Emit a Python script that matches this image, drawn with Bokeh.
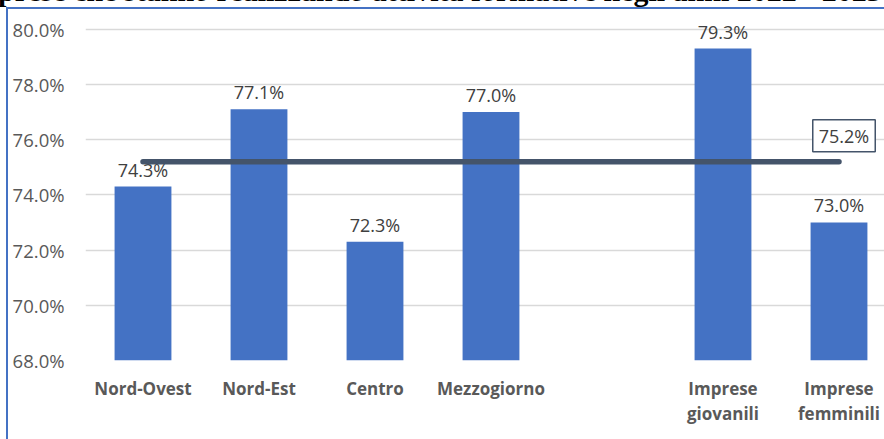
from bokeh.plotting import figure
from bokeh.layouts import column
from bokeh.models import Range1d, FixedTicker, PrintfTickFormatter, Label, ColumnDataSource, Div
from bokeh.core.properties import value
from bokeh.embed import file_html
from bokeh.resources import INLINE

# ---- data ----
categories = ["Nord-Ovest", "Nord-Est", "Centro", "Mezzogiorno", "", "Imprese\ngiovanili", "Imprese\nfemminili"]
values = [74.3, 77.1, 72.3, 77.0, None, 79.3, 73.0]
average = 75.2
y_ticks = [68, 70, 72, 74, 76, 78, 80]
title_text = "prese che stanno realizzando attività formative negli anni 2022 - 2023"

FONT = "Open Sans"
BAR = "#4472C4"
AVG = "#44546A"
FRAME = "#4472C4"

xs = [i for i, v in enumerate(values) if v is not None]
vs = [v for v in values if v is not None]
labels = [f"{v:.1f}%" for v in vs]
src = ColumnDataSource(dict(x=xs, top=vs, label=labels))

TOP = 7
W, H = 884, 439 - TOP
left, bottom = 85, 79
px_per_cat = 116.0
first_center = 57.5
x0 = -first_center / px_per_cat
x1 = x0 + (W - left) / px_per_cat
px_per_pct = 27.61
y0 = y_ticks[0]
y1 = y0 + (H - bottom) / px_per_pct

# cut-off title strip above the chart area
title = Div(text=f'<div style="white-space:nowrap;font:bold 30px/30px \'Liberation Serif\';'
                 f'color:black;transform:translate(-2px,-24px)">{title_text}</div>',
            width=W, height=TOP, styles={"overflow": "hidden", "margin": "0", "padding": "0"})

p = figure(width=W, height=H, output_backend="svg", toolbar_location=None,
           x_range=Range1d(x0, x1), y_range=Range1d(y0, y1),
           min_border_left=left, min_border_right=0, min_border_top=0, min_border_bottom=bottom)
p.outline_line_color = None
p.background_fill_color = None
p.border_fill_color = None
p.styles = {"background": (f"linear-gradient({FRAME},{FRAME}) 6px 0px / 2px 100% no-repeat, "
                           f"linear-gradient({FRAME},{FRAME}) 6px 0px / 100% 2px no-repeat, white")}

p.vbar(x="x", top="top", bottom=y0, width=0.49, source=src,
       fill_color=BAR, line_color=None)

p.text(x="x", y="top", text="label", source=src, text_align="center", text_baseline="bottom",
       y_offset=-5, text_font=value(FONT), text_font_size="18px", text_color="#404040")

p.line(x=[0, len(categories) - 1], y=[average, average], line_color=AVG, line_width=5.5,
       line_cap="round")

p.add_layout(Label(x=len(categories) - 1, y=average, text=f"{average:.1f}%", x_offset=5, y_offset=10,
                   text_align="center", text_baseline="bottom", text_font=FONT,
                   text_font_size="18px", text_color="#404040",
                   border_line_color=AVG, border_line_width=1.5,
                   background_fill_color="white", padding=dict(left=6, right=6, top=4, bottom=4)))

# y axis
p.yaxis.ticker = FixedTicker(ticks=y_ticks)
p.yaxis.formatter = PrintfTickFormatter(format="%.1f%%")
p.yaxis.axis_line_color = None
p.yaxis.major_tick_line_color = None
p.yaxis.minor_tick_line_color = None
p.yaxis.major_tick_out = 0
p.yaxis.major_label_standoff = 21
p.yaxis.major_label_text_font = FONT
p.yaxis.major_label_text_font_size = "18.5px"
p.yaxis.major_label_text_color = "#595959"

# x axis
p.xaxis.ticker = FixedTicker(ticks=xs)
p.xaxis.major_label_overrides = {i: categories[i] for i in xs}
p.xaxis.axis_line_color = None
p.xaxis.major_tick_line_color = None
p.xaxis.minor_tick_line_color = None
p.xaxis.major_label_standoff = 10
p.xaxis.major_label_text_font = FONT
p.xaxis.major_label_text_font_size = "17px"
p.xaxis.major_label_text_font_style = "bold"
p.xaxis.major_label_text_color = "#595959"
p.xaxis.major_label_text_line_height = 1.1

p.xgrid.grid_line_color = None
p.ygrid.grid_line_color = "#D9D9D9"
p.ygrid.grid_line_width = 1.5

layout = column(title, p, spacing=0)
open("out.html", "w").write(file_html(layout, INLINE))
